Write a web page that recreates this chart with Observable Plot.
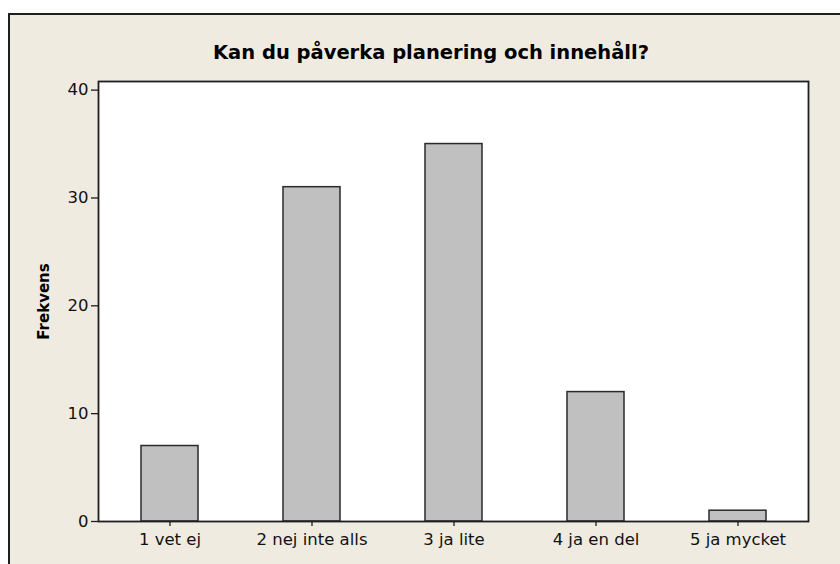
<!DOCTYPE html>
<html>
<head>
<meta charset="utf-8">
<script src="https://cdn.jsdelivr.net/npm/d3@7"></script>
<script src="https://cdn.jsdelivr.net/npm/@observablehq/plot@0.6"></script>
<style>
  html, body { margin: 0; padding: 0; background: #ffffff; }
  body { width: 840px; height: 564px; position: relative; overflow: hidden; }
  #panel { position: absolute; left: 8px; top: 13px; width: 840px; height: 560px;
           background: #efebe1; border-left: 2px solid #1e1e1e; border-top: 2px solid #1e1e1e; }
  #title { position: absolute; left: 0; width: 862px; top: 41px; text-align: center;
           font-family: "DejaVu Sans", sans-serif;
           font-weight: bold; font-size: 19.5px; color: #000; }
  #chart { position: absolute; left: 0; top: 0; }
  #chart svg { font-family: "DejaVu Sans", sans-serif; }
</style>
</head>
<body>
<div id="panel"></div>
<div id="title">Kan du påverka planering och innehåll?</div>
<div id="chart"></div>
<script>
const categories = ["1 vet ej", "2 nej inte alls", "3 ja lite", "4 ja en del", "5 ja mycket"];
const counts = [7, 31, 35, 12, 1];
const yTicks = [0, 10, 20, 30, 40];
const yLabel = "Frekvens";

const data = categories.map((c, i) => ({category: c, count: counts[i]}));

const chart = Plot.plot({
  width: 840,
  height: 564,
  marginLeft: 98,
  marginRight: 32,
  marginTop: 81,
  marginBottom: 43,
  style: {background: "transparent", fontSize: "16.5px", color: "#111"},
  x: {domain: categories, type: "band", paddingInner: 0.6, paddingOuter: 0.3, label: null},
  y: {domain: [0, 40.8], label: null},
  marks: [
    Plot.frame({fill: "#ffffff"}),
    Plot.barY(data, {x: "category", y: "count", fill: "#c0c0c0", stroke: "#2a2a2a", strokeWidth: 1.5}),
    Plot.frame({stroke: "#1e1e1e", strokeWidth: 1.8}),
    Plot.axisY({ticks: yTicks, tickSize: 7, tickPadding: 3, tickFormat: d => String(d), label: null, stroke: "#1e1e1e", strokeWidth: 1.3, fontSize: 16.5}),
    Plot.axisX({tickSize: 5, tickPadding: 7, label: null, stroke: "#1e1e1e", strokeWidth: 1.3, fontSize: 16.5}),
    Plot.text([yLabel], {text: d => d, frameAnchor: "left", textAnchor: "middle", rotate: -90, dx: -54, fontWeight: "bold", fontSize: 15, fill: "#000"})
  ]
});
document.getElementById("chart").appendChild(chart);
</script>
</body>
</html>
